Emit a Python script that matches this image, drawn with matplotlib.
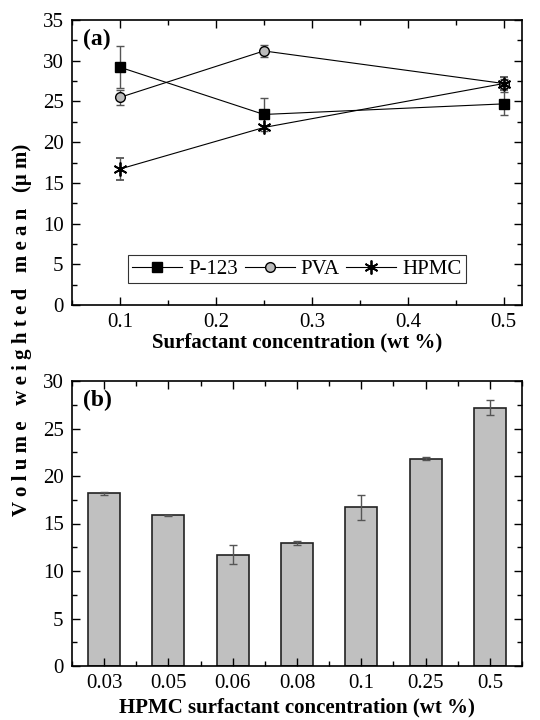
import matplotlib
matplotlib.use("agg")
import matplotlib.pyplot as plt
from matplotlib.ticker import MultipleLocator
from matplotlib.lines import Line2D

plt.rcParams["font.family"] = ["Liberation Serif", "DejaVu Serif"]

# panel (a)
conc = [0.1, 0.25, 0.5]
p123 = [29.2, 23.4, 24.7]
p123_err = [2.6, 2.0, 1.4]
pva = [25.5, 31.2, 27.2]
pva_err = [0.9, 0.7, 0.6]
hpmc = [16.7, 21.8, 27.2]
hpmc_err = [1.3, 0.15, 0.8]

# panel (b)
hpmc_labels = ["0.03", "0.05", "0.06", "0.08", "0.1", "0.25", "0.5"]
hpmc_vals = [18.2, 15.85, 11.7, 12.95, 16.7, 21.8, 27.2]
hpmc_vals_err = [0.15, 0.05, 1.0, 0.2, 1.3, 0.15, 0.8]

fig = plt.figure(figsize=(5.4, 7.2), dpi=100)
ax1 = fig.add_axes([72/540, 1-305/720, 450/540, 285/720])
ax2 = fig.add_axes([72/540, 1-666/720, 450/540, 285/720])

ekw = dict(ecolor="#555555", elinewidth=1.0, capsize=3, capthick=1.0, color="black", lw=0.8)
styles = [
    dict(marker="s", ms=7, mfc="black", mec="black"),
    dict(marker="o", ms=7, mfc="#bbbbbb", mec="black"),
    dict(marker=(6, 2, 0), ms=10, mew=1.3, mec="black"),
]
names = ["P-123", "PVA", "HPMC"]
for ys, es, st in zip([p123, pva, hpmc], [p123_err, pva_err, hpmc_err], styles):
    ax1.errorbar(conc, ys, yerr=es, **st, **ekw)

handles = [Line2D([], [], color="black", lw=0.8, **st) for st in styles]

ax1.set_xlim(0.05, 0.519)
ax1.set_ylim(0, 35)
ax1.xaxis.set_major_locator(MultipleLocator(0.1))
ax1.xaxis.set_minor_locator(MultipleLocator(0.05))
ax1.yaxis.set_major_locator(MultipleLocator(5))
ax1.yaxis.set_minor_locator(MultipleLocator(2.5))
ax1.set_xlabel("Surfactant concentration (wt %)", fontsize=15, fontweight="bold", labelpad=0)
ax1.text(0.025, 0.97, "(a)", transform=ax1.transAxes, fontsize=17, fontweight="bold", va="top")
leg = ax1.legend(handles, names, ncol=3, loc="lower center", bbox_to_anchor=(0.5, 0.04), fontsize=15,
                 frameon=True, fancybox=False, edgecolor="black", handlelength=2.4,
                 columnspacing=0.3, handletextpad=0.3, borderpad=0.2)
leg.get_frame().set_linewidth(0.8)

x = range(len(hpmc_labels))
ax2.bar(x, hpmc_vals, width=0.5, color="#c0c0c0", edgecolor="#222222", linewidth=1.2)
ax2.errorbar(x, hpmc_vals, yerr=hpmc_vals_err, fmt="none", ecolor="#555555", elinewidth=1.0, capsize=3, capthick=1.0)
ax2.set_xlim(-0.5, 6.5)
ax2.set_ylim(0, 30)
ax2.set_xticks(list(x))
ax2.set_xticklabels(hpmc_labels)
ax2.set_xticks([i + 0.5 for i in range(-1, 7)], minor=True)
ax2.yaxis.set_major_locator(MultipleLocator(5))
ax2.yaxis.set_minor_locator(MultipleLocator(2.5))
ax2.set_xlabel("HPMC surfactant concentration (wt %)", fontsize=15, fontweight="bold", labelpad=3)
ax2.text(0.025, 0.97, "(b)", transform=ax2.transAxes, fontsize=17, fontweight="bold", va="top")

for ax in (ax1, ax2):
    ax.tick_params(which="both", direction="in", top=True, right=True, labelsize=15, width=1.0)
    ax.tick_params(which="major", length=6, pad=6)
    ax.tick_params(which="minor", length=3.5)
    for s in ax.spines.values():
        s.set_linewidth(1.2)

fig.text(0.04, 1 - 330/720, "V o l u m e   w e i g h t e d   m e a n   (\u03bc m)",
         rotation=90, fontsize=15, fontweight="bold", ha="center", va="center")

fig.savefig("out.png", dpi=100)
